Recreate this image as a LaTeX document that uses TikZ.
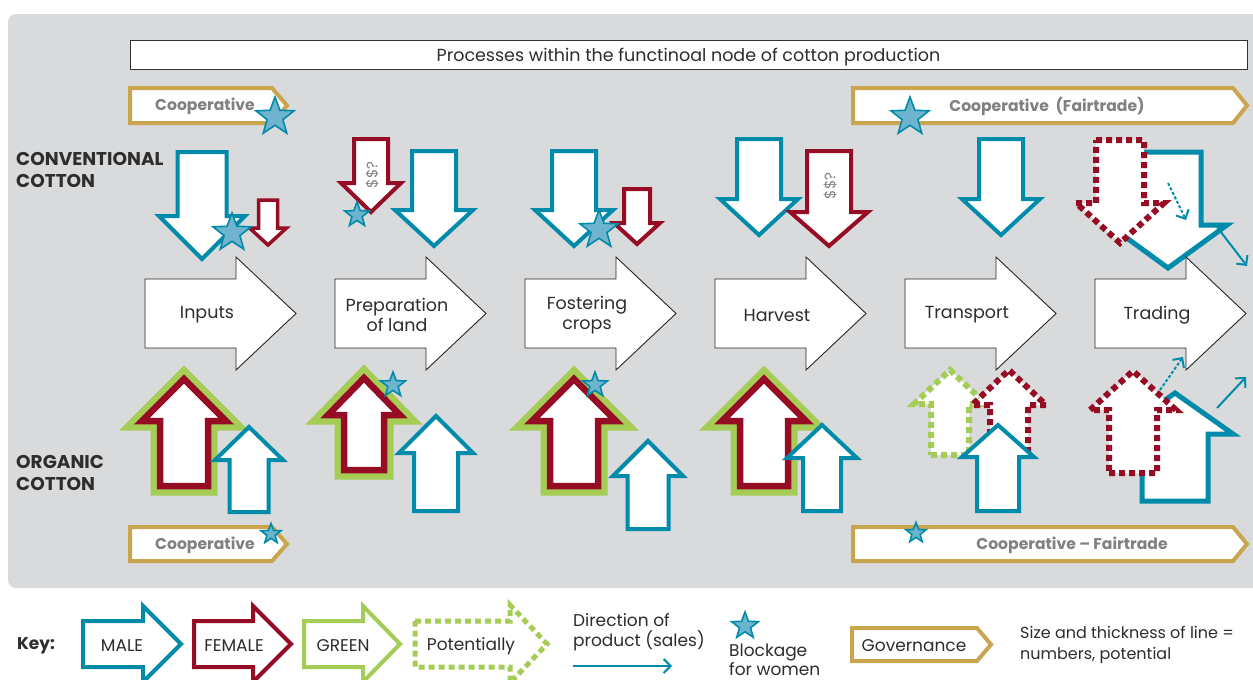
\documentclass[tikz,border=0pt]{standalone}
\usepackage{fontspec}
\setmainfont{Poppins}
\usetikzlibrary{shapes.geometric,arrows.meta}
\definecolor{tealc}{RGB}{0,139,170}
\definecolor{wine}{RGB}{150,12,36}
\definecolor{lgreen}{RGB}{165,205,85}
\definecolor{gold}{RGB}{201,165,80}
\definecolor{starblue}{RGB}{110,180,206}
\definecolor{bggray}{RGB}{217,218,220}
\definecolor{labgray}{RGB}{128,128,128}
\definecolor{txt}{RGB}{45,45,45}
% vertical arrow: [style]{cx}{base y}{body half}{head half}{head base y}{tip y}
\newcommand{\VArrow}[7][]{\draw[#1] ({#2-#4},#3) -- ({#2+#4},#3) -- ({#2+#4},#6) -- ({#2+#5},#6) -- (#2,#7) -- ({#2-#5},#6) -- ({#2-#4},#6) -- cycle;}
% right arrow: [style]{left}{cy}{body half}{head half}{head base x}{tip x}
\newcommand{\RArrow}[7][]{\draw[#1] (#2,{#3-#4}) -- (#6,{#3-#4}) -- (#6,{#3-#5}) -- (#7,#3) -- (#6,{#3+#5}) -- (#6,{#3+#4}) -- (#2,{#3+#4}) -- cycle;}
% green+red arrow
\newcommand{\GRArrow}[6]{\VArrow[draw=lgreen,line width=19]{#1}{#2}{#3}{#4}{#5}{#6}\VArrow[draw=wine,line width=6.5,fill=white]{#1}{#2}{#3}{#4}{#5}{#6}}
% governance box: {left}{top}{bottom}{body right}{tip}
\newcommand{\GovBox}[5]{\draw[gov] (#1,#2) -- (#4,#2) -- (#5,{(#2+#3)/2}) -- (#4,#3) -- (#1,#3) -- cycle;}
\tikzset{
  male/.style={draw=tealc,line width=4,fill=white},
  female/.style={draw=wine,line width=4,fill=white},
  greenk/.style={draw=lgreen,line width=4,fill=white},
  potred/.style={draw=wine,line width=6,dash pattern=on 6pt off 4pt,fill=white},
  potgreen/.style={draw=lgreen,line width=6,dash pattern=on 6pt off 4pt,fill=white},
  procarrow/.style={draw=black!85,line width=0.9,fill=white},
  gov/.style={draw=gold,line width=4,fill=white},
  govtext/.style={font=\bfseries\fontsize{15.6}{18}\selectfont,text=labgray},
  lbl/.style={font=\fontsize{17.5}{20}\selectfont,text=txt,align=center},
  keytext/.style={font=\fontsize{17}{20}\selectfont,text=txt,align=left},
  sidelab/.style={font=\bfseries\fontsize{18.5}{22}\selectfont,text=txt,align=left,anchor=west,inner sep=0},
  dollar/.style={font=\fontsize{15}{17}\selectfont,text=labgray,rotate=90},
  blk/.style={star,star points=5,star point ratio=2.4,draw=tealc,fill=starblue,line width=1.6,inner sep=0,minimum size=#1},
  dirarr/.style={draw=tealc,line width=2,-{Straight Barb[length=7pt,width=14pt,line width=2pt]}},
  dirdot/.style={dirarr,dash pattern=on 3pt off 2pt},
}
\begin{document}
\begin{tikzpicture}[x=1pt,y=-1pt,line join=miter]
\useasboundingbox (0,0) rectangle (1253,680);
\fill[white] (0,0) rectangle (1253,680);
\fill[bggray,rounded corners=8] (8,14) rectangle (1265,588);

% title
\node[draw=black!80,line width=0.8,fill=white,minimum width=1117,minimum height=29,inner sep=0] (title) at (688.5,54.5) {};
\node[font=\fontsize{17.5}{20}\selectfont,text=txt] (titletext) at (688.5,57) {Processes within the functinoal node of cotton production};

% side labels
\node[sidelab] (conv) at (16,170) {CONVENTIONAL\\COTTON};
\node[sidelab] (org) at (16,473) {ORGANIC\\COTTON};

% governance boxes
\GovBox{130}{88}{123}{272}{287}
\node[govtext] (coop1) at (205,106.5) {Cooperative};
\GovBox{853}{88}{123}{1233}{1247}
\node[govtext] (coop2) at (1047,106.5) {Cooperative\ \ (Fairtrade)};
\GovBox{130}{527}{561}{272}{287}
\node[govtext] (coop3) at (205,545) {Cooperative};
\GovBox{853}{527}{561}{1233}{1247}
\node[govtext] (coop4) at (1072,545) {Cooperative -- Fairtrade};
\node[blk=40] (s1) at (275,117) {};
\node[blk=40] (s2) at (910,117) {};
\node[blk=21] (s3) at (271,534) {};
\node[blk=21] (s4) at (916,533) {};

% ---- conventional (down arrows)
\VArrow[male]{202}{152}{24.5}{43}{216}{259}
\VArrow[female,line width=3.5]{268}{200}{9.5}{18.5}{228}{245}
\node[blk=40] (s5) at (232,233) {};

\VArrow[female]{371}{139}{17}{30}{183}{212}
\node[dollar] (d1) at (372,175) {\$\$?};
\node[blk=26] (s6) at (357,215) {};
\VArrow[male]{434}{151}{22}{39}{210}{246}

\VArrow[male]{574}{151}{22}{39}{210}{246}
\VArrow[female]{637}{189}{13}{23}{223}{244}
\node[blk=40] (s7) at (599,230) {};

\VArrow[male]{759}{139}{22}{39}{199}{235}
\VArrow[female]{829}{151}{22}{39}{212}{246}
\node[dollar] (d2) at (830,186) {\$\$?};

\VArrow[male]{1001}{139}{22}{39}{199}{235}

\VArrow[male,line width=5]{1168}{152}{33}{59}{225}{268}
\VArrow[potred]{1120}{140}{24}{44}{203}{243}
\coordinate (a1s) at (1168,183); \coordinate (a1e) at (1186,220);
\draw[dirdot] (a1s) -- (a1e);
\coordinate (a2s) at (1217,227); \coordinate (a2e) at (1247,266);
\draw[dirarr] (a2s) -- (a2e);

% ---- process arrows
\foreach \i/\t/\nm in {0/Inputs/p1,1/Preparation\\of land/p2,2/Fostering\\crops/p3,3/Harvest/p4,4/Transport/p5,5/Trading/p6}{
  \pgfmathsetmacro{\L}{145+190*\i}
  \RArrow[procarrow]{\L}{313.5}{34.5}{56.5}{\L+91}{\L+151}
  \node[lbl] (\nm) at (\L+62,315) {\t};
}

% ---- organic (up arrows)
\GRArrow{184}{486}{24}{42}{421}{379}
\VArrow[male]{249}{512}{19.5}{34}{460}{427}

\GRArrow{364}{470}{20}{36}{415}{378}
\node[blk=26] (s8) at (393,385) {};
\VArrow[male]{436}{511}{22}{37}{453}{416}

\GRArrow{574}{486}{24}{42}{421}{379}
\node[blk=26] (s9) at (595,385) {};
\VArrow[male]{648}{529}{20.5}{35}{476}{441}

\GRArrow{764}{486}{24}{42}{421}{379}
\VArrow[male]{822}{511}{19}{35}{458}{425}

\VArrow[potgreen]{950}{455}{19}{36}{404}{370}
\VArrow[potred]{1009}{455}{19}{37}{405}{370}
\VArrow[male]{998}{511}{21}{36}{457}{425}

\VArrow[male,line width=5]{1175}{501}{33}{58}{434}{393}
\VArrow[potred]{1133}{473}{24}{43}{410}{371}
\coordinate (b1s) at (1160,390); \coordinate (b1e) at (1183,357);
\draw[dirdot] (b1s) -- (b1e);
\coordinate (b2s) at (1217,408); \coordinate (b2e) at (1246,377);
\draw[dirarr] (b2s) -- (b2e);

% ---- key
\node[font=\bfseries\fontsize{17}{20}\selectfont,text=txt] (key) at (36,646) {Key:};
\RArrow[male]{83}{644}{23}{38}{143}{181}
\node[keytext] (kmale) at (122,646) {MALE};
\RArrow[female]{194}{644}{23}{38}{253}{291}
\node[keytext] (kfemale) at (234,646) {FEMALE};
\RArrow[greenk]{304}{644}{23}{38}{363}{400}
\node[keytext] (kgreen) at (343,646) {GREEN};
\RArrow[potgreen,line width=5]{415}{644}{23}{39}{510}{547}
\node[keytext] (kpot) at (471,646) {Potentially};

\node[keytext,anchor=west,inner sep=0] (kdir) at (573,632) {Direction of\\product (sales)};
\coordinate (kds) at (573,666); \coordinate (kde) at (672,666);
\draw[dirarr] (kds) -- (kde);
\node[blk=28] (kstar) at (745,626) {};
\node[keytext,font=\fontsize{17}{19}\selectfont,anchor=west,inner sep=0] (kblk) at (729,660) {Blockage\\for women};
\draw[gov] (852,628) -- (977,628) -- (991,644.5) -- (977,661) -- (852,661) -- cycle;
\node[keytext] (kgov) at (914,646) {Governance};
\node[keytext,font=\fontsize{16}{21}\selectfont,anchor=west,inner sep=0] (ksize) at (1020,645) {Size and thickness of line =\\numbers, potential};
\end{tikzpicture}
\end{document}
